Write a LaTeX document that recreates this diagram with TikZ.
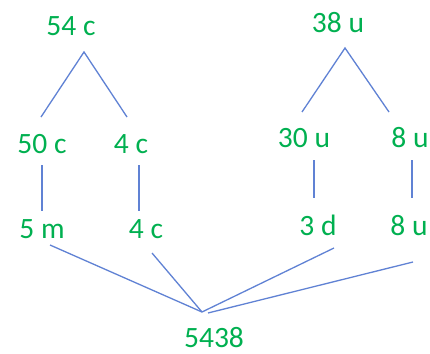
\documentclass[tikz,border=0pt]{standalone}
\usepackage{fontspec}
\setmainfont{Carlito}
\definecolor{numgreen}{RGB}{0,176,80}
\definecolor{linkblue}{RGB}{96,130,212}
\begin{document}
\begin{tikzpicture}[x=1pt,y=-1pt,
  lbl/.style={anchor=base,inner sep=0pt,text=numgreen,font=\fontsize{29.5}{30}\selectfont},
  link/.style={draw=linkblue,line width=1.3pt}]
\useasboundingbox[fill=white] (0,0) rectangle (430,353);
% labels
\node[lbl] (a)  at (71,35)   {54 c};
\node[lbl] (a1) at (42,153)  {50 c};
\node[lbl] (a2) at (131,153) {4 c};
\node[lbl] (a3) at (42,238)  {5 m};
\node[lbl] (a4) at (146,238) {4 c};
\node[lbl] (b)  at (338,33)  {38 u};
\node[lbl] (b1) at (304,147) {30 u};
\node[lbl] (b2) at (410,147) {8 u};
\node[lbl] (b3) at (318,235) {3 d};
\node[lbl] (b4) at (409,235) {8 u};
\node[lbl] (r)  at (214,347) {5438};
% line ends
\coordinate (aT)  at (84,52);
\coordinate (aL)  at (41,117);
\coordinate (aR)  at (127,117);
\coordinate (bT)  at (345,48);
\coordinate (bL)  at (302,112);
\coordinate (bR)  at (389,112);
\coordinate (a1d) at (42,165);
\coordinate (a3u) at (42,211);
\coordinate (a2d) at (139,165);
\coordinate (a4u) at (139,211);
\coordinate (b1d) at (314,160);
\coordinate (b3u) at (314,198);
\coordinate (b2d) at (412,160);
\coordinate (b4u) at (412,198);
\coordinate (a3s) at (50,245);
\coordinate (a4s) at (152,253);
\coordinate (b3s) at (334,248);
\coordinate (b4s) at (413,262);
\coordinate (m1)  at (202,312);
\coordinate (m2)  at (208,313);
% branches
\draw[link] (aL) -- (aT) -- (aR);
\draw[link] (bL) -- (bT) -- (bR);
\draw[link] (a1d) -- (a3u);
\draw[link] (a2d) -- (a4u);
\draw[link] (b1d) -- (b3u);
\draw[link] (b2d) -- (b4u);
% joins toward the total
\draw[link] (a3s) -- (m1);
\draw[link] (a4s) -- (m1);
\draw[link] (b3s) -- (m1);
\draw[link] (b4s) -- (m2);
\end{tikzpicture}
\end{document}
